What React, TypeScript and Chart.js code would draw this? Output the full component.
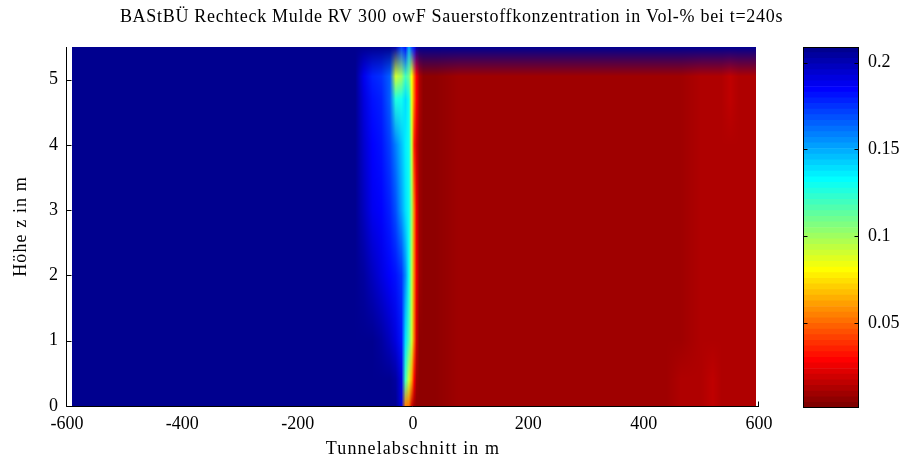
import React, { useEffect, useRef } from 'react';
import { Chart, registerables } from 'chart.js';

Chart.register(...registerables);

// ---------- texts ----------
const TITLE = 'BAStBÜ Rechteck Mulde RV 300 owF Sauerstoffkonzentration in Vol-% bei t=240s';
const X_LABEL = 'Tunnelabschnitt in m';
const Y_LABEL = 'Höhe z in m';

// ---------- axes ----------
const xTicks = [-600, -400, -200, 0, 200, 400, 600];
const yTicks = [0, 1, 2, 3, 4, 5];
const cbTicks = [0.05, 0.1, 0.15, 0.2];
const xMin = -600, xMax = 600;
const zMin = 0, zMax = 5.5;
const cMin = 0.001, cMax = 0.209;

// ---------- field: O2 concentration at grid nodes ----------
const xNodes = [-592, -100, -85, -70, -55, -40, -30, -20, -13, -7, -2, 2, 6, 11, 18, 40, 80, 150, 300, 440, 465, 500, 520, 535, 550, 565, 594];
const zNodes = [0, 0.4, 1, 2, 3, 4, 4.7, 5.05, 5.5];

const o2_z0_00 = [0.207, 0.207, 0.207, 0.207, 0.207, 0.207, 0.207, 0.19, 0.055, 0.05, 0.02, 0.008, 0.006, 0.005, 0.005, 0.006, 0.008, 0.009, 0.009, 0.009, 0.0123, 0.0123, 0.0155, 0.0123, 0.0123, 0.0123, 0.0123];
const o2_z0_40 = [0.207, 0.207, 0.207, 0.207, 0.207, 0.207, 0.205, 0.19, 0.12, 0.09, 0.06, 0.03, 0.01, 0.006, 0.005, 0.006, 0.008, 0.009, 0.009, 0.009, 0.0123, 0.0123, 0.0155, 0.0123, 0.0123, 0.0123, 0.0123];
const o2_z1_00 = [0.207, 0.207, 0.207, 0.207, 0.203, 0.198, 0.192, 0.182, 0.14, 0.115, 0.09, 0.05, 0.02, 0.007, 0.006, 0.006, 0.009, 0.009, 0.009, 0.009, 0.009, 0.0123, 0.0123, 0.0123, 0.0123, 0.0123, 0.0123];
const o2_z2_00 = [0.207, 0.207, 0.203, 0.196, 0.19, 0.186, 0.182, 0.175, 0.155, 0.128, 0.095, 0.055, 0.025, 0.008, 0.006, 0.006, 0.009, 0.009, 0.009, 0.009, 0.009, 0.0123, 0.0123, 0.0123, 0.0123, 0.0123, 0.0123];
const o2_z3_00 = [0.207, 0.207, 0.196, 0.188, 0.184, 0.178, 0.168, 0.152, 0.14, 0.13, 0.1, 0.055, 0.025, 0.01, 0.006, 0.006, 0.009, 0.009, 0.009, 0.009, 0.009, 0.0123, 0.0123, 0.0123, 0.0123, 0.0123, 0.0123];
const o2_z4_00 = [0.207, 0.207, 0.193, 0.185, 0.18, 0.17, 0.16, 0.145, 0.135, 0.128, 0.09, 0.035, 0.02, 0.009, 0.006, 0.007, 0.009, 0.009, 0.009, 0.009, 0.009, 0.0123, 0.0123, 0.0123, 0.0123, 0.0123, 0.0123];
const o2_z4_70 = [0.207, 0.207, 0.19, 0.182, 0.177, 0.166, 0.125, 0.13, 0.14, 0.13, 0.085, 0.05, 0.028, 0.012, 0.006, 0.007, 0.009, 0.009, 0.009, 0.009, 0.009, 0.0123, 0.0123, 0.0123, 0.0155, 0.0123, 0.0123];
const o2_z5_05 = [0.207, 0.207, 0.188, 0.178, 0.175, 0.165, 0.09, 0.1, 0.12, 0.11, 0.08, 0.05, 0.028, 0.012, 0.006, 0.007, 0.009, 0.009, 0.009, 0.009, 0.009, 0.0123, 0.0123, 0.0123, 0.0155, 0.0123, 0.0123];
const o2_z5_50 = [0.207, 0.207, 0.207, 0.207, 0.207, 0.207, 0.2, 0.17, 0.18, 0.15, 0.17, 0.18, 0.2, 0.207, 0.207, 0.207, 0.207, 0.207, 0.207, 0.207, 0.207, 0.207, 0.207, 0.207, 0.207, 0.207, 0.207];

const o2Rows = [o2_z0_00, o2_z0_40, o2_z1_00, o2_z2_00, o2_z3_00, o2_z4_00, o2_z4_70, o2_z5_05, o2_z5_50];

// ---------- colormap (MATLAB jet(64), flipped) ----------
function jetMap(m: number): number[][] {
  const n = Math.ceil(m / 4);
  const u: number[] = [];
  for (let i = 1; i <= n; i++) u.push(i / n);
  for (let i = 1; i < n; i++) u.push(1);
  for (let i = n; i >= 1; i--) u.push(i / n);
  const g0 = Math.ceil(n / 2) - (m % 4 === 1 ? 1 : 0);
  const J = Array.from({ length: m }, () => [0, 0, 0]);
  for (let k = 0; k < u.length; k++) {
    const g = g0 + k + 1;
    const r = g + n;
    const b = g - n;
    if (r >= 1 && r <= m) J[r - 1][0] = u[k];
    if (g >= 1 && g <= m) J[g - 1][1] = u[k];
    if (b >= 1 && b <= m) J[b - 1][2] = u[k];
  }
  return J;
}
const NLEV = 64;
const JET = jetMap(NLEV);
function colorOf(v: number): number[] {
  let idx = Math.floor(((v - cMin) / (cMax - cMin)) * NLEV);
  idx = Math.max(0, Math.min(NLEV - 1, idx));
  const c = JET[NLEV - 1 - idx];
  return [c[0] * 255, c[1] * 255, c[2] * 255];
}
const rgbStr = (c: number[]) => `rgb(${Math.round(c[0])},${Math.round(c[1])},${Math.round(c[2])})`;

const FONT = '"Liberation Serif", "Times New Roman", serif';
const FS = 18;

function findSeg(arr: number[], v: number): [number, number] {
  if (v <= arr[0]) return [0, 0];
  for (let i = 0; i < arr.length - 1; i++) {
    if (v <= arr[i + 1]) return [i, (v - arr[i]) / (arr[i + 1] - arr[i])];
  }
  return [arr.length - 2, 1];
}

const heatmapPlugin = {
  id: 'heatmap',
  beforeDatasetsDraw(chart: any) {
    const ctx: CanvasRenderingContext2D = chart.ctx;
    const xs = chart.scales.x;
    const ys = chart.scales.y;
    const ca = chart.chartArea;
    // inward ticks (beneath the data)
    ctx.save();
    ctx.strokeStyle = '#000';
    ctx.lineWidth = 1;
    ctx.beginPath();
    const axX = Math.round(ca.left) - 0.5;
    const axY = Math.round(ca.bottom) + 0.5;
    for (const v of yTicks) {
      const y = Math.round(ys.getPixelForValue(v)) + 0.5;
      ctx.moveTo(axX, y);
      ctx.lineTo(axX + 5, y);
    }
    for (const v of xTicks) {
      const x = Math.round(xs.getPixelForValue(v)) - 0.5;
      ctx.moveTo(x, axY);
      ctx.lineTo(x, axY - 5);
    }
    ctx.stroke();
    ctx.restore();

    // node colours
    const nodeCol = o2Rows.map((row) => row.map((v) => colorOf(v)));
    const px0 = Math.round(xs.getPixelForValue(xNodes[0]));
    const px1 = Math.round(xs.getPixelForValue(xNodes[xNodes.length - 1]));
    const py0 = Math.round(ys.getPixelForValue(zNodes[zNodes.length - 1]));
    const py1 = Math.round(ys.getPixelForValue(zNodes[0]));
    const w = px1 - px0;
    const h = py1 - py0;
    if (w <= 0 || h <= 0) return;
    const img = ctx.createImageData(w, h);
    const xSegs: [number, number][] = [];
    for (let i = 0; i < w; i++) xSegs.push(findSeg(xNodes, xs.getValueForPixel(px0 + i + 0.5)));
    for (let j = 0; j < h; j++) {
      const z = ys.getValueForPixel(py0 + j + 0.5);
      const [zi, zt] = findSeg(zNodes, z);
      const rA = nodeCol[zi];
      const rB = nodeCol[Math.min(zi + 1, zNodes.length - 1)];
      for (let i = 0; i < w; i++) {
        const [xi, xt] = xSegs[i];
        const xi2 = Math.min(xi + 1, xNodes.length - 1);
        const o = (j * w + i) * 4;
        for (let k = 0; k < 3; k++) {
          const a = rA[xi][k] * (1 - xt) + rA[xi2][k] * xt;
          const b = rB[xi][k] * (1 - xt) + rB[xi2][k] * xt;
          img.data[o + k] = Math.round(a * (1 - zt) + b * zt);
        }
        img.data[o + 3] = 255;
      }
    }
    ctx.putImageData(img, px0, py0);
  },
  afterDatasetsDraw(chart: any) {
    const ctx: CanvasRenderingContext2D = chart.ctx;
    const ca = chart.chartArea;
    ctx.save();
    ctx.strokeStyle = '#000';
    ctx.lineWidth = 1;
    ctx.beginPath();
    const axX = Math.round(ca.left) - 0.5;
    const axY = Math.round(ca.bottom) + 0.5;
    ctx.moveTo(axX, Math.round(ca.top));
    ctx.lineTo(axX, axY);
    ctx.lineTo(Math.round(ca.right), axY);
    ctx.stroke();
    ctx.restore();
  },
};

const textPlugin = {
  id: 'texts',
  afterDraw(chart: any) {
    const ctx: any = chart.ctx;
    const ca = chart.chartArea;
    const cx = (ca.left + ca.right) / 2;
    const cy = (ca.top + ca.bottom) / 2;
    ctx.save();
    ctx.fillStyle = '#000';
    ctx.font = `${FS}px ${FONT}`;
    ctx.textAlign = 'center';
    ctx.textBaseline = 'middle';
    ctx.letterSpacing = '0.7px';
    ctx.fillText(TITLE, chart.width / 2, 17);
    ctx.letterSpacing = '1.1px';
    ctx.fillText(X_LABEL, cx, 449);
    ctx.translate(21, cy);
    ctx.rotate(-Math.PI / 2);
    ctx.fillText(Y_LABEL, 0, 0);
    ctx.restore();
  },
};

const cbFramePlugin = {
  id: 'cbFrame',
  afterDatasetsDraw(chart: any) {
    const ctx: CanvasRenderingContext2D = chart.ctx;
    const ca = chart.chartArea;
    const ys = chart.scales.y;
    ctx.save();
    ctx.strokeStyle = '#000';
    ctx.lineWidth = 1;
    const l = Math.round(ca.left) + 0.5;
    const r = Math.round(ca.right) - 0.5;
    const t = Math.round(ca.top) + 0.5;
    const b = Math.round(ca.bottom) - 0.5;
    ctx.strokeRect(l, t, r - l, b - t);
    ctx.beginPath();
    for (const v of cbTicks) {
      const y = Math.round(ys.getPixelForValue(v)) + 0.5;
      ctx.moveTo(l, y);
      ctx.lineTo(l + 4, y);
      ctx.moveTo(r, y);
      ctx.lineTo(r - 4, y);
    }
    ctx.stroke();
    ctx.restore();
  },
};

export default function App() {
  const mainRef = useRef<HTMLCanvasElement>(null);
  const cbRef = useRef<HTMLCanvasElement>(null);

  useEffect(() => {
    const tickFont = { family: FONT, size: FS };
    const main = new Chart(mainRef.current as HTMLCanvasElement, {
      type: 'scatter',
      data: { datasets: [{ data: [], pointRadius: 0 }] },
      options: {
        animation: false,
        responsive: false,
        devicePixelRatio: 1,
        events: [],
        layout: { padding: { top: 47, right: 144, left: 0, bottom: 0 } },
        plugins: { legend: { display: false }, tooltip: { enabled: false }, title: { display: false } },
        scales: {
          x: {
            type: 'linear',
            min: xMin,
            max: xMax,
            afterBuildTicks: (s: any) => { s.ticks = xTicks.map((v) => ({ value: v })); },
            afterFit: (s: any) => { s.height = 57; },
            grid: { display: false, drawTicks: false },
            border: { display: false },
            ticks: { font: tickFont, color: '#000', padding: 7, maxRotation: 0, autoSkip: false, callback: (v: any) => String(v) },
          },
          y: {
            type: 'linear',
            min: zMin,
            max: zMax,
            afterBuildTicks: (s: any) => { s.ticks = yTicks.map((v) => ({ value: v })); },
            afterFit: (s: any) => { s.width = 67; },
            grid: { display: false, drawTicks: false },
            border: { display: false },
            ticks: { font: tickFont, color: '#000', padding: 9, autoSkip: false, callback: (v: any) => String(v) },
          },
        },
      },
      plugins: [heatmapPlugin, textPlugin],
    } as any);

    const step = (cMax - cMin) / NLEV;
    const cbDatasets = Array.from({ length: NLEV }, (_, i) => ({
      data: [[cMin + i * step, cMin + (i + 1) * step]],
      backgroundColor: rgbStr(colorOf(cMin + (i + 0.5) * step)),
      borderWidth: 0,
      barPercentage: 1,
      categoryPercentage: 1,
      grouped: false,
    }));
    const cb = new Chart(cbRef.current as HTMLCanvasElement, {
      type: 'bar',
      data: { labels: ['O2'], datasets: cbDatasets },
      options: {
        animation: false,
        responsive: false,
        devicePixelRatio: 1,
        events: [],
        layout: { padding: { top: 47, right: 0, left: 803, bottom: 55 } },
        plugins: { legend: { display: false }, tooltip: { enabled: false } },
        scales: {
          x: { display: false },
          y: {
            type: 'linear',
            position: 'right',
            min: cMin,
            max: cMax,
            afterBuildTicks: (s: any) => { s.ticks = cbTicks.map((v) => ({ value: v })); },
            afterFit: (s: any) => { s.width = 44; },
            grid: { display: false, drawTicks: false },
            border: { display: false },
            ticks: { font: tickFont, color: '#000', padding: 9, autoSkip: false, callback: (v: any) => String(v) },
          },
        },
      },
      plugins: [cbFramePlugin],
    } as any);

    return () => {
      main.destroy();
      cb.destroy();
    };
  }, []);

  return (
    <div style={{ position: 'fixed', left: 0, top: 0, width: 903, height: 463, background: '#fff' }}>
      <canvas ref={mainRef} width={903} height={463} style={{ position: 'absolute', left: 0, top: 0 }} />
      <canvas ref={cbRef} width={903} height={463} style={{ position: 'absolute', left: 0, top: 0 }} />
    </div>
  );
}
